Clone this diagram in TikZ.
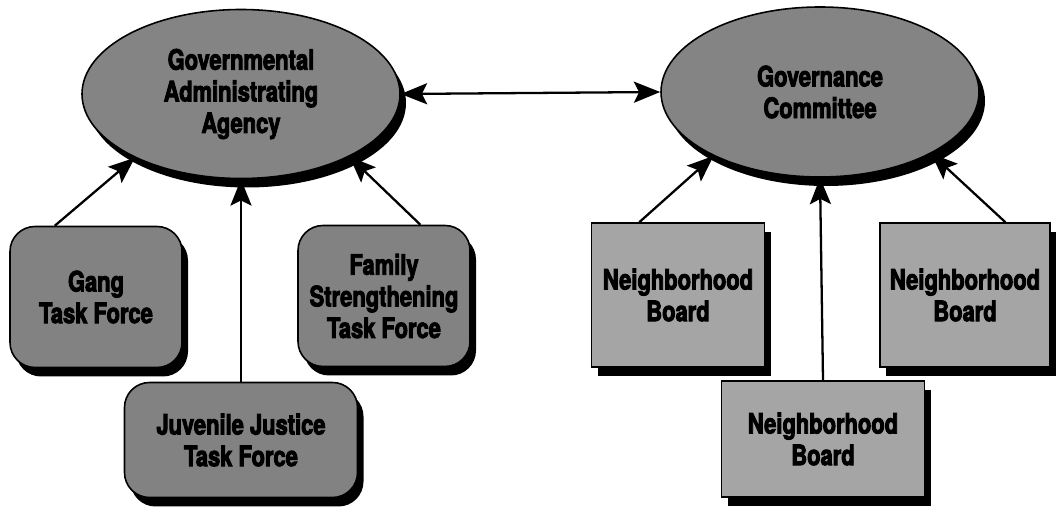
\documentclass[tikz,border=0pt]{standalone}
\usepackage{fontspec}
\newfontfamily\orgfont{TeX Gyre Heros}[FakeStretch=0.78, BoldFeatures={FakeBold=3}]
\usetikzlibrary{
    shapes.geometric,
    arrows.meta,
    positioning,
    shadows
}
\definecolor{bgWhite}{RGB}{255, 255, 255}
\definecolor{inkBlack}{RGB}{0, 0, 0}
\definecolor{agencyGray}{RGB}{132, 132, 132}
\definecolor{forceGray}{RGB}{130, 130, 130}
\definecolor{boardGray}{RGB}{165, 165, 165}
\def\picW{21.14}
\def\picH{10.14}
\tikzset{
    label text/.style={
        font=\orgfont\bfseries\fontsize{16}{18}\selectfont,
        text=inkBlack,
        align=center
    },
    hardShadow/.style={
        drop shadow={shadow xshift=0.12cm, shadow yshift=-0.18cm, fill=inkBlack, opacity=1}
    },
    hub/.style={
        ellipse,
        label text,
        draw=inkBlack,
        line width=0.9pt,
        fill=agencyGray,
        inner sep=0pt,
        minimum width=6.36cm,
        minimum height=3.38cm,
        hardShadow
    },
    taskForce/.style={
        rectangle,
        label text,
        rounded corners=0.5cm,
        draw=inkBlack,
        line width=0.9pt,
        fill=forceGray,
        inner sep=0pt,
        minimum width=3.44cm,
        minimum height=2.82cm,
        hardShadow
    },
    board/.style={
        rectangle,
        label text,
        draw=inkBlack,
        line width=0.9pt,
        fill=boardGray,
        inner sep=0pt,
        minimum width=3.46cm,
        minimum height=2.88cm,
        hardShadow
    },
    connector/.style={
        draw=inkBlack,
        line width=1.3pt,
        -{Stealth[length=15pt, width=12pt, inset=3pt]}
    }
}

\begin{document}
\begin{tikzpicture}
    \useasboundingbox (0,0) rectangle (\picW, \picH);
    \fill[bgWhite] (0,0) rectangle (\picW, \picH);

    % Left side: agency and task forces
    \node[hub] (agency) at (4.82, 8.26) {Governmental\\Administrating\\Agency};
    \node[taskForce] (gang) at (1.92, 4.20) {Gang\\Task Force};
    \node[taskForce] (family) at (7.68, 4.22) {Family\\Strengthening\\Task Force};
    \node[taskForce, minimum width=4.66cm, minimum height=2.30cm] (juvenile) at (4.82, 1.34) {Juvenile Justice\\Task Force};

    % Right side: committee and boards
    \node[hub, minimum height=3.40cm] (committee) at (16.40, 8.30) {Governance\\Committee};
    \node[board] (boardA) at (13.56, 4.24) {Neighborhood\\Board};
    \node[board, minimum width=3.40cm] (boardC) at (19.30, 4.24) {Neighborhood\\Board};
    \node[board, minimum width=4.06cm, minimum height=2.32cm] (boardB) at (16.46, 1.36) {Neighborhood\\Board};

    % Links
    \draw[connector, {Stealth[length=15pt, width=12pt, inset=3pt]}-{Stealth[length=15pt, width=12pt, inset=3pt]}] (agency.east) -- (committee.west);
    \draw[connector] (gang.120) -- (agency.211);
    \draw[connector] (juvenile.north) -- (agency.south);
    \draw[connector] (family.63) -- (agency.330);
    \draw[connector] (boardA.118) -- (committee.211);
    \draw[connector] (boardB.north) -- (committee.south);
    \draw[connector] (boardC.61) -- (committee.331);
\end{tikzpicture}
\end{document}
